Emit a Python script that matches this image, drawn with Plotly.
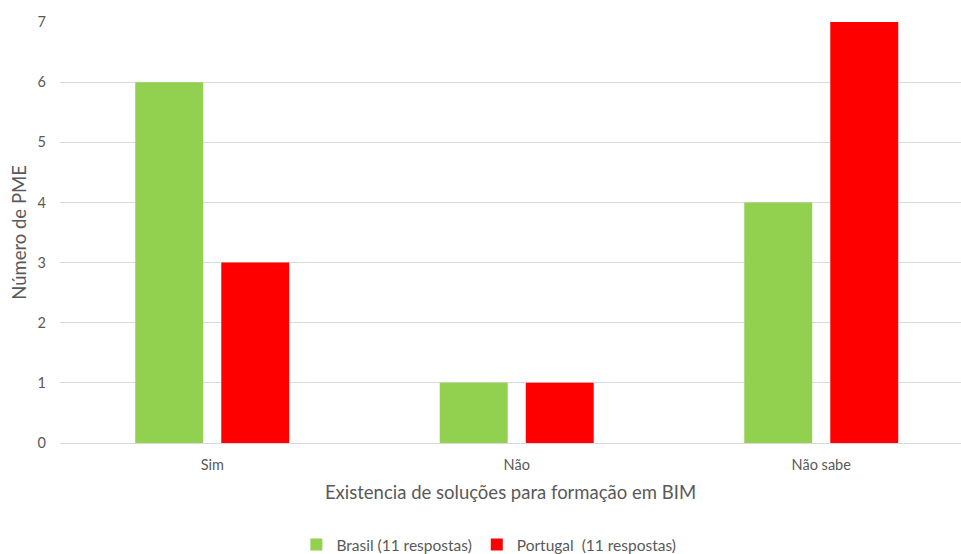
import plotly.graph_objects as go

categorias = ["Sim", "Não", "Não sabe"]
brasil = [6, 1, 4]
portugal = [3, 1, 7]
y_ticks = [0, 1, 2, 3, 4, 5, 6, 7]

FONT = "Lato"
TXT = "#595959"

fig = go.Figure()
fig.add_trace(go.Bar(x=categorias, y=brasil, name="Brasil (11 respostas)",
                     marker=dict(color="#92D050", line=dict(width=0))))
fig.add_trace(go.Bar(x=categorias, y=portugal, name="Portugal  (11 respostas)",
                     marker=dict(color="#FF0000", line=dict(width=0))))

fig.update_layout(
    width=961, height=554,
    margin=dict(l=60, r=0, t=22, b=111, autoexpand=False),
    paper_bgcolor="white", plot_bgcolor="white",
    barmode="group", bargap=0.435, bargroupgap=0.21,
    font=dict(family=FONT, color=TXT, size=14),
    showlegend=True,
    legend=dict(orientation="h", x=0.476, xanchor="center", y=-0.242, yanchor="middle",
                yref="paper", font=dict(size=15.5, color=TXT), itemwidth=30,
                traceorder="normal"),
    xaxis=dict(
        range=[-0.5, 2.459], automargin=False,
        showgrid=False, showline=False, zeroline=False,
        ticks="", ticklabelstandoff=11,
        tickfont=dict(size=14.5, color=TXT),
        title=dict(text="Existencia de soluções para formação em BIM",
                   font=dict(size=18.5, color=TXT), standoff=14),
    ),
    yaxis=dict(
        range=[0, 7], tickvals=y_ticks, automargin=False,
        showgrid=True, gridcolor="#D9D9D9", gridwidth=1,
        zeroline=True, zerolinecolor="#D9D9D9", zerolinewidth=1,
        ticks="", ticklabelstandoff=13,
        tickfont=dict(size=14.5, color=TXT),
        title=dict(text="Número de PME", font=dict(size=18.5, color=TXT), standoff=6),
    ),
)

fig.write_html("out.html")
